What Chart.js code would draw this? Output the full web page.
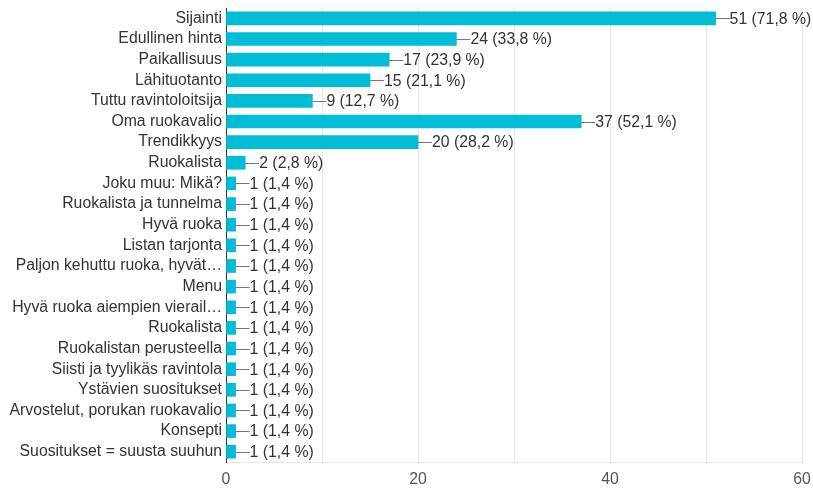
<!DOCTYPE html>
<html>
<head>
<meta charset="utf-8">
<script src="https://cdn.jsdelivr.net/npm/chart.js@4.4.1/dist/chart.umd.min.js"></script>
<style>
  html, body { margin: 0; padding: 0; background: #fff; }
  #wrap { width: 813px; height: 489px; }
</style>
</head>
<body>
<div id="wrap"><canvas id="graf_syyt"></canvas></div>
<script>
// vastausvaihtoehdot
const categories = [
  "Sijainti", "Edullinen hinta", "Paikallisuus", "Lähituotanto",
  "Tuttu ravintoloitsija", "Oma ruokavalio", "Trendikkyys", "Ruokalista",
  "Joku muu: Mikä?", "Ruokalista ja tunnelma", "Hyvä ruoka", "Listan tarjonta",
  "Paljon kehuttu ruoka, hyvät…", "Menu", "Hyvä ruoka aiempien vierail…",
  "Ruokalista", "Ruokalistan perusteella", "Siisti ja tyylikäs ravintola",
  "Ystävien suositukset", "Arvostelut, porukan ruokavalio", "Konsepti",
  "Suositukset = suusta suuhun"
];
// vastausmäärät
const counts = [51, 24, 17, 15, 9, 37, 20, 2, 1, 1, 1, 1, 1, 1, 1, 1, 1, 1, 1, 1, 1, 1];
// prosentit kuten kuvassa
const percents = ["71,8", "33,8", "23,9", "21,1", "12,7", "52,1", "28,2", "2,8",
  "1,4", "1,4", "1,4", "1,4", "1,4", "1,4", "1,4", "1,4", "1,4", "1,4", "1,4", "1,4", "1,4", "1,4"];
const xTicks = [0, 20, 40, 60];

const fontti = "Liberation Sans, Arial, sans-serif";
const koko = 15.8;

// viiva + teksti palkin perään
const arvoTekstit = {
  id: "arvoTekstit",
  afterDatasetsDraw(chart) {
    const ctx = chart.ctx;
    const meta = chart.getDatasetMeta(0);
    ctx.save();
    ctx.font = koko + "px " + fontti;
    ctx.textBaseline = "middle";
    ctx.textAlign = "left";
    meta.data.forEach((bar, i) => {
      const x = bar.x;
      const y = bar.y;
      ctx.strokeStyle = "#777";
      ctx.lineWidth = 1;
      ctx.beginPath();
      ctx.moveTo(x, Math.round(y) + 0.5);
      ctx.lineTo(x + 14, Math.round(y) + 0.5);
      ctx.stroke();
      ctx.fillStyle = "#333";
      ctx.fillText(counts[i] + " (" + percents[i] + " %)", x + 14, y + 1);
    });
    ctx.restore();
  }
};

const dados = {
  labels: categories,
  datasets: [{
    data: counts,
    backgroundColor: "#00bcd4",
    borderWidth: 0,
    barThickness: 13,
  }]
};

const config = {
  type: "bar",
  data: dados,
  options: {
    indexAxis: "y",
    responsive: true,
    maintainAspectRatio: false,
    animation: false,
    layout: { padding: { top: 8, right: 11, left: 0, bottom: -8 } },
    plugins: {
      legend: { display: false },
      tooltip: { enabled: false },
    },
    scales: {
      x: {
        min: 0,
        max: 60,
        afterBuildTicks(scale) {
          scale.ticks = [0, 10, 20, 30, 40, 50, 60].map(v => ({ value: v }));
        },
        afterFit(scale) {
          scale.paddingLeft = 0;
          scale.paddingRight = 0;
        },
        ticks: {
          autoSkip: false,
          maxRotation: 0,
          padding: 8,
          color: "#555",
          font: { family: fontti, size: koko },
          callback: (v) => (xTicks.includes(v) ? String(v) : ""),
        },
        grid: { color: "#e6e6e6", drawTicks: false },
        border: { color: "#e6e6e6" },
      },
      y: {
        afterFit(scale) {
          scale.width = 226;
          scale.paddingTop = 0;
          scale.paddingBottom = 0;
        },
        ticks: {
          autoSkip: false,
          padding: 4,
          color: "#333",
          font: { family: fontti, size: koko },
        },
        grid: { display: false, drawTicks: false },
        border: { color: "#333", width: 1 },
      },
    },
  },
  plugins: [arvoTekstit],
};

const grafico = new Chart(document.getElementById("graf_syyt"), config);
</script>
</body>
</html>
